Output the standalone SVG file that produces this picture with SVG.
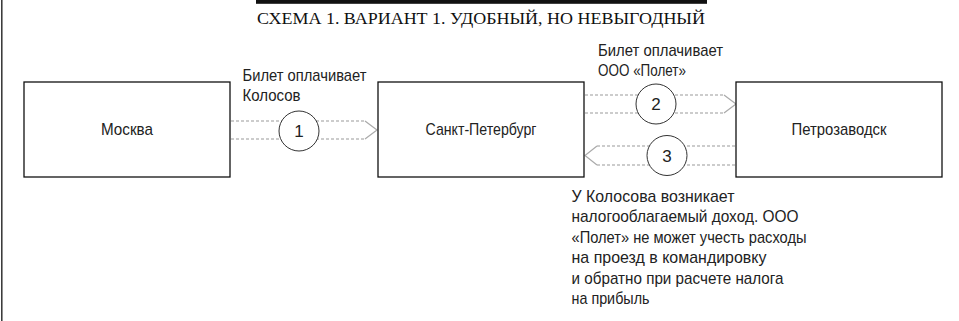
<svg xmlns="http://www.w3.org/2000/svg" width="959" height="321" viewBox="0 0 959 321">
<style>
.box{fill:#fff;stroke:#111;stroke-width:1.3}
.lbl{font-family:"Liberation Sans",Arial,sans-serif;font-size:17px;fill:#222}
.ctr{text-anchor:middle}
.dash{stroke:#9a9a9a;stroke-width:1.2;stroke-dasharray:3 2;fill:none}
.chev{stroke:#aaa;stroke-width:1.2;fill:none}
.num{fill:#fff;stroke:#333;stroke-width:1}
.title{font-family:"Liberation Serif","Times New Roman",serif;font-size:17.5px;fill:#111}
</style>
<rect x="0" y="0" width="959" height="321" fill="#fff"/>
<line x1="1.8" y1="0" x2="1.8" y2="321" stroke="#333" stroke-width="1.5"/>
<rect x="256" y="0" width="451" height="3.8" fill="#111"/>
<text class="title" x="257" y="23.5" textLength="448" lengthAdjust="spacingAndGlyphs">СХЕМА 1. ВАРИАНТ 1. УДОБНЫЙ, НО НЕВЫГОДНЫЙ</text>

<g id="connectors">
  <g id="c1">
    <line class="dash" x1="231" y1="121" x2="365" y2="121"/>
    <line class="dash" x1="231" y1="139" x2="365" y2="139"/>
    <polyline class="chev" points="365,121 377,130 365,139"/>
    <circle class="num" cx="299" cy="131" r="20"/>
    <text class="lbl ctr" x="299" y="137" font-size="17.5">1</text>
  </g>
  <g id="c2">
    <line class="dash" x1="585" y1="95" x2="724" y2="95"/>
    <line class="dash" x1="585" y1="113" x2="724" y2="113"/>
    <polyline class="chev" points="724,95 736,104 724,113"/>
    <circle class="num" cx="656" cy="104" r="20"/>
    <text class="lbl ctr" x="656" y="110" font-size="17.5">2</text>
  </g>
  <g id="c3">
    <line class="dash" x1="597" y1="146" x2="735" y2="146"/>
    <line class="dash" x1="597" y1="165" x2="735" y2="165"/>
    <polyline class="chev" points="597,146 585,155.5 597,165"/>
    <circle class="num" cx="667" cy="155.5" r="20"/>
    <text class="lbl ctr" x="667" y="161.5" font-size="17.5">3</text>
  </g>
</g>

<g id="moscow">
  <rect class="box" x="24" y="82" width="206" height="95"/>
  <text class="lbl ctr" x="127" y="135" textLength="52" lengthAdjust="spacingAndGlyphs">Москва</text>
</g>
<g id="spb">
  <rect class="box" x="378" y="82" width="206" height="95"/>
  <text class="lbl ctr" x="481" y="135" textLength="111" lengthAdjust="spacingAndGlyphs">Санкт-Петербург</text>
</g>
<g id="petrozavodsk">
  <rect class="box" x="736" y="82" width="206" height="95"/>
  <text class="lbl ctr" x="839" y="135" textLength="95" lengthAdjust="spacingAndGlyphs">Петрозаводск</text>
</g>

<g id="label1">
  <text class="lbl" x="242.5" y="80.5" textLength="124" lengthAdjust="spacingAndGlyphs">Билет оплачивает</text>
  <text class="lbl" x="242.5" y="100.5" textLength="58" lengthAdjust="spacingAndGlyphs">Колосов</text>
</g>
<g id="label2">
  <text class="lbl" x="598" y="56" textLength="125" lengthAdjust="spacingAndGlyphs">Билет оплачивает</text>
  <text class="lbl" x="598" y="76" textLength="88" lengthAdjust="spacingAndGlyphs">ООО «Полет»</text>
</g>
<g id="label3">
  <text class="lbl" x="571.5" y="201.5" textLength="163" lengthAdjust="spacingAndGlyphs">У Колосова возникает</text>
  <text class="lbl" x="571.5" y="222" textLength="227" lengthAdjust="spacingAndGlyphs">налогооблагаемый доход. ООО</text>
  <text class="lbl" x="571.5" y="242.5" textLength="235" lengthAdjust="spacingAndGlyphs">«Полет» не может учесть расходы</text>
  <text class="lbl" x="571.5" y="263" textLength="195" lengthAdjust="spacingAndGlyphs">на проезд в командировку</text>
  <text class="lbl" x="571.5" y="283.5" textLength="212" lengthAdjust="spacingAndGlyphs">и обратно при расчете налога</text>
  <text class="lbl" x="571.5" y="304" textLength="78" lengthAdjust="spacingAndGlyphs">на прибыль</text>
</g>
</svg>
